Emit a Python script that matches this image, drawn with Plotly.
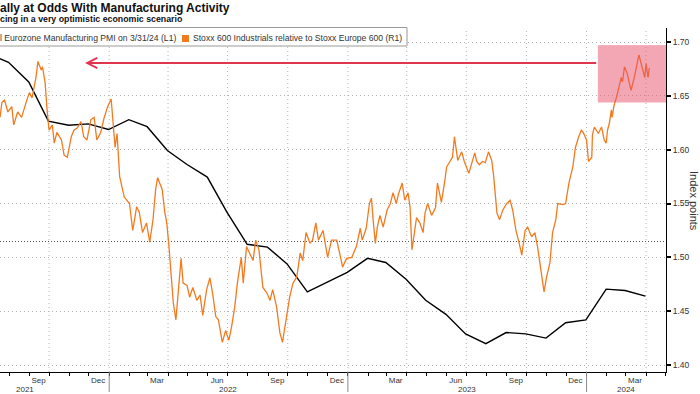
import plotly.graph_objects as go

# ---------------- data ----------------
pmi_dates = ["2021-06-30", "2021-07-31", "2021-08-31", "2021-09-30", "2021-10-31", "2021-11-30",
             "2021-12-31", "2022-01-31", "2022-02-28", "2022-03-31", "2022-04-30", "2022-05-31",
             "2022-06-30", "2022-07-31", "2022-08-31", "2022-09-30", "2022-10-31", "2022-11-30",
             "2022-12-31", "2023-01-31", "2023-02-28", "2023-03-31", "2023-04-30", "2023-05-31",
             "2023-06-30", "2023-07-31", "2023-08-31", "2023-09-30", "2023-10-31", "2023-11-30",
             "2023-12-31", "2024-01-31", "2024-02-29", "2024-03-31"]
pmi_values = [63.4, 62.8, 61.4, 58.6, 58.3, 58.4, 58.0, 58.7, 58.2, 56.5, 55.5, 54.6,
              52.1, 49.8, 49.6, 48.4, 46.4, 47.1, 47.8, 48.8, 48.5, 47.3, 45.8, 44.8,
              43.4, 42.7, 43.5, 43.4, 43.1, 44.2, 44.4, 46.6, 46.5, 46.1]

rel_dates = [
    "2021-07-18", "2021-07-21", "2021-07-25", "2021-07-30", "2021-08-05", "2021-08-08", "2021-08-14",
    "2021-08-20", "2021-08-28", "2021-09-01", "2021-09-05", "2021-09-11", "2021-09-14", "2021-09-19",
    "2021-09-21", "2021-09-25", "2021-09-28", "2021-10-01", "2021-10-06", "2021-10-09", "2021-10-13",
    "2021-10-20", "2021-10-24", "2021-10-29", "2021-11-04", "2021-11-08", "2021-11-13", "2021-11-19",
    "2021-11-23", "2021-11-28", "2021-12-04", "2021-12-09", "2021-12-13", "2021-12-19", "2021-12-24",
    "2021-12-29", "2022-01-04", "2022-01-07", "2022-01-10", "2022-01-13", "2022-01-17", "2022-01-24",
    "2022-02-01", "2022-02-06", "2022-02-12", "2022-02-16", "2022-02-21", "2022-02-27", "2022-03-04",
    "2022-03-09", "2022-03-13", "2022-03-16", "2022-03-23", "2022-03-27", "2022-03-30", "2022-04-02",
    "2022-04-07", "2022-04-09", "2022-04-13", "2022-04-16", "2022-04-21", "2022-04-24", "2022-04-30",
    "2022-05-04", "2022-05-09", "2022-05-15", "2022-05-20", "2022-05-24", "2022-05-30", "2022-06-04",
    "2022-06-08", "2022-06-13", "2022-06-17", "2022-06-23", "2022-06-28", "2022-07-03", "2022-07-07",
    "2022-07-12", "2022-07-16", "2022-07-22", "2022-07-25", "2022-07-30", "2022-08-04", "2022-08-09",
    "2022-08-13", "2022-08-18", "2022-08-24", "2022-08-30", "2022-09-04", "2022-09-08", "2022-09-14",
    "2022-09-19", "2022-09-23", "2022-09-28", "2022-10-04", "2022-10-09", "2022-10-15", "2022-10-20",
    "2022-10-24", "2022-10-29", "2022-11-04", "2022-11-08", "2022-11-13", "2022-11-17", "2022-11-24",
    "2022-12-01", "2022-12-07", "2022-12-15", "2022-12-19", "2022-12-24", "2022-12-30", "2023-01-07",
    "2023-01-14", "2023-01-20", "2023-01-23", "2023-01-29", "2023-02-03", "2023-02-06", "2023-02-09",
    "2023-02-12", "2023-02-15", "2023-02-19", "2023-02-24", "2023-03-02", "2023-03-07", "2023-03-11",
    "2023-03-16", "2023-03-19", "2023-03-25", "2023-03-29", "2023-04-03", "2023-04-06", "2023-04-09",
    "2023-04-13", "2023-04-16", "2023-04-21", "2023-04-26", "2023-04-29", "2023-05-03", "2023-05-09",
    "2023-05-15", "2023-05-18", "2023-05-24", "2023-05-29", "2023-06-01", "2023-06-06", "2023-06-10",
    "2023-06-13", "2023-06-18", "2023-06-24", "2023-06-28", "2023-07-05", "2023-07-11", "2023-07-14",
    "2023-07-17", "2023-07-21", "2023-07-26", "2023-07-30", "2023-08-04", "2023-08-09", "2023-08-12",
    "2023-08-17", "2023-08-21", "2023-08-26", "2023-09-01", "2023-09-06", "2023-09-10", "2023-09-15",
    "2023-09-20", "2023-09-24", "2023-09-29", "2023-10-03", "2023-10-09", "2023-10-14", "2023-10-18",
    "2023-10-24", "2023-10-28", "2023-11-01", "2023-11-06", "2023-11-10", "2023-11-15", "2023-11-18",
    "2023-11-26", "2023-11-30", "2023-12-05", "2023-12-11", "2023-12-15", "2023-12-20", "2023-12-24",
    "2023-12-27", "2024-01-01", "2024-01-04", "2024-01-09", "2024-01-10", "2024-01-13", "2024-01-16",
    "2024-01-19", "2024-01-24", "2024-01-28", "2024-01-31", "2024-02-02", "2024-02-05", "2024-02-08",
    "2024-02-09", "2024-02-12", "2024-02-16", "2024-02-20", "2024-02-23", "2024-02-25", "2024-02-28",
    "2024-03-03", "2024-03-09", "2024-03-14", "2024-03-17", "2024-03-21", "2024-03-24", "2024-03-26",
    "2024-03-30", "2024-04-01", "2024-04-04", "2024-04-06"]
rel_values = [
    1.630, 1.644, 1.646, 1.635, 1.640, 1.623, 1.635,
    1.630, 1.646, 1.653, 1.648, 1.667, 1.682, 1.674,
    1.677, 1.662, 1.637, 1.618, 1.623, 1.606, 1.616,
    1.609, 1.595, 1.593, 1.612, 1.618, 1.620, 1.626,
    1.612, 1.609, 1.628, 1.630, 1.609, 1.616, 1.629,
    1.639, 1.647, 1.628, 1.602, 1.615, 1.575, 1.556,
    1.550, 1.525, 1.547, 1.542, 1.523, 1.532, 1.514,
    1.535, 1.563, 1.574, 1.563, 1.542, 1.532, 1.513,
    1.479, 1.458, 1.442, 1.463, 1.499, 1.476, 1.474,
    1.463, 1.472, 1.460, 1.465, 1.446, 1.470, 1.481,
    1.467, 1.445, 1.442, 1.421, 1.432, 1.423, 1.435,
    1.454, 1.476, 1.500, 1.476, 1.510, 1.504, 1.497,
    1.516, 1.507, 1.472, 1.467, 1.460, 1.470, 1.454,
    1.430, 1.421, 1.442, 1.463, 1.476, 1.482, 1.504,
    1.497, 1.523, 1.513, 1.516, 1.532, 1.516, 1.525,
    1.500, 1.516, 1.516, 1.504, 1.491, 1.499, 1.500,
    1.510, 1.527, 1.516, 1.527, 1.550, 1.555, 1.532,
    1.513, 1.528, 1.539, 1.528, 1.544, 1.550, 1.560,
    1.550, 1.558, 1.569, 1.553, 1.560, 1.547, 1.507,
    1.523, 1.537, 1.532, 1.523, 1.541, 1.550, 1.539,
    1.546, 1.569, 1.551, 1.570, 1.584, 1.589, 1.593,
    1.612, 1.590, 1.598, 1.589, 1.578, 1.592, 1.597,
    1.589, 1.586, 1.589, 1.588, 1.598, 1.590, 1.575,
    1.541, 1.535, 1.544, 1.550, 1.553, 1.544, 1.525,
    1.513, 1.502, 1.525, 1.528, 1.519, 1.523, 1.510,
    1.486, 1.468, 1.482, 1.495, 1.523, 1.535, 1.550,
    1.549, 1.550, 1.569, 1.584, 1.602, 1.612, 1.618,
    1.616, 1.609, 1.589, 1.593, 1.614, 1.621, 1.618,
    1.615, 1.621, 1.609, 1.606, 1.618, 1.625, 1.637,
    1.630, 1.641, 1.649, 1.658, 1.667, 1.663, 1.677,
    1.671, 1.655, 1.667, 1.676, 1.688, 1.681, 1.676,
    1.667, 1.680, 1.667, 1.676]

month_tick_dates = ["2021-09-15", "2021-12-15", "2022-03-15", "2022-06-15", "2022-09-15",
                    "2022-12-15", "2023-03-15", "2023-06-15", "2023-09-15", "2023-12-15", "2024-03-15"]
month_tick_labels = ["Sep", "Dec", "Mar", "Jun", "Sep", "Dec", "Mar", "Jun", "Sep", "Dec", "Mar"]
year_label_dates = ["2021-08-25", "2022-07-02", "2023-07-02", "2024-03-01"]
year_labels = ["2021", "2022", "2023", "2024"]
year_starts = ["2022-01-01", "2023-01-01", "2024-01-01"]
quarter_starts = ["2021-10-01", "2022-01-01", "2022-04-01", "2022-07-01", "2022-10-01",
                  "2023-01-01", "2023-04-01", "2023-07-01", "2023-10-01", "2024-01-01", "2024-04-01"]
right_ticks = [1.40, 1.45, 1.50, 1.55, 1.60, 1.65, 1.70]

title_text = "ally at Odds With Manufacturing Activity"
subtitle_text = "cing in a very optimistic economic scenario"
legend_pmi = "l Eurozone Manufacturing PMI on 3/31/24 (L1)"
legend_rel = "Stoxx 600 Industrials relative to Stoxx Europe 600 (R1)"

# ---------------- figure ----------------
FONT = "Liberation Sans, Arial, sans-serif"
ORANGE = "#F47A1F"
PINK = "#E8506A"
GRID = "#b4b4b4"
DOTS = "1px,3px"

fig = go.Figure()
fig.add_trace(go.Scatter(x=pmi_dates, y=pmi_values, yaxis="y", mode="lines",
                         line=dict(color="black", width=1.4), showlegend=False,
                         hoverinfo="skip"))
fig.add_trace(go.Scatter(x=rel_dates, y=rel_values, yaxis="y2", mode="lines",
                         line=dict(color=ORANGE, width=1.3), showlegend=False,
                         hoverinfo="skip"))

PH = 344.0  # plot height in px
shapes = []
for q in quarter_starts:
    shapes.append(dict(type="line", xref="x", yref="paper", x0=q, x1=q, y0=0, y1=1,
                       line=dict(color=GRID, width=1, dash=DOTS), layer="below"))
for ys in year_starts:
    shapes.append(dict(type="line", xref="x", yref="paper", x0=ys, x1=ys, y0=0, y1=-20 / PH,
                       line=dict(color="#8a8a8a", width=1)))
# PMI 50 reference line
shapes.append(dict(type="line", xref="paper", yref="y", x0=0, x1=1, y0=50, y1=50,
                   line=dict(color="#555555", width=1, dash="1px,2px"), layer="below"))
# highlight box
shapes.append(dict(type="rect", xref="x", yref="y2", x0="2024-01-19", x1="2024-05-01 12:00",
                   y0=1.6443, y1=1.6966, fillcolor=PINK, opacity=0.5,
                   line=dict(color=PINK, width=1), layer="above"))
# legend box
shapes.append(dict(type="rect", xref="paper", yref="paper", x0=-0.01, x1=407 / 666,
                   y0=(372 - 46) / PH, y1=(372 - 27.5) / PH, fillcolor="white",
                   line=dict(color="#9a9a9a", width=1), layer="above"))
shapes.append(dict(type="rect", xref="paper", yref="paper", x0=182 / 666, x1=189 / 666,
                   y0=(372 - 42) / PH, y1=(372 - 35) / PH, fillcolor=ORANGE,
                   line=dict(width=0), layer="above"))

annotations = [
    dict(text="<b>" + title_text + "</b>", xref="paper", yref="paper", x=-0.003, y=(372 - 7.5) / PH,
         xanchor="left", yanchor="middle", showarrow=False,
         font=dict(family=FONT, size=12, color="#111111")),
    dict(text="<b>" + subtitle_text + "</b>", xref="paper", yref="paper", x=-0.003, y=(372 - 18.5) / PH,
         xanchor="left", yanchor="middle", showarrow=False,
         font=dict(family=FONT, size=8.8, color="#111111")),
    dict(text=legend_pmi, xref="paper", yref="paper", x=-0.003, y=(372 - 38) / PH,
         xanchor="left", yanchor="middle", showarrow=False,
         font=dict(family=FONT, size=8.6, color="#333333")),
    dict(text=legend_rel, xref="paper", yref="paper", x=191 / 666, y=(372 - 38) / PH,
         xanchor="left", yanchor="middle", showarrow=False,
         font=dict(family=FONT, size=8.6, color="#333333")),
    dict(text="Index points", xref="paper", yref="paper", x=694 / 666, y=(372 - 201) / PH,
         xanchor="center", yanchor="middle", textangle=90, showarrow=False,
         font=dict(family=FONT, size=11, color="#333333")),
    dict(text="", x="2021-11-25", y=1.6805, xref="x", yref="y2",
         ax="2024-01-18", ay=1.6805, axref="x", ayref="y2", showarrow=True,
         arrowhead=5, arrowsize=1.1, arrowwidth=1.8, arrowcolor="#E0344F"),
]
for d, t in zip(year_label_dates, year_labels):
    annotations.append(dict(text=t, x=d, xref="x", yref="paper", y=-17.5 / PH, xanchor="center",
                            yanchor="middle", showarrow=False,
                            font=dict(family=FONT, size=8, color="#333333")))

fig.update_layout(
    width=700, height=394,
    margin=dict(l=0, r=34, t=28, b=22, pad=0),
    paper_bgcolor="white", plot_bgcolor="white",
    showlegend=False,
    shapes=shapes, annotations=annotations,
    xaxis=dict(type="date", range=["2021-07-18", "2024-05-01 12:00"],
               showgrid=False, zeroline=False,
               tickmode="array", tickvals=month_tick_dates, ticktext=month_tick_labels,
               ticks="", tickfont=dict(family=FONT, size=8, color="#333333"),
               showline=True, linecolor="black", linewidth=1,
               minor=dict(ticks="outside", ticklen=3, tickcolor="black", tickwidth=1,
                          dtick="M1", tick0="2021-08-01", showgrid=False)),
    yaxis=dict(range=[40.68, 65.25], visible=False, showgrid=False, zeroline=False),
    yaxis2=dict(overlaying="y", side="right", range=[1.3935, 1.713],
                tickmode="array", tickvals=right_ticks, tickformat=".2f",
                showgrid=True, gridcolor=GRID, griddash=DOTS, gridwidth=1,
                zeroline=False, showline=True, linecolor="black", linewidth=1,
                ticks="outside", ticklen=4, tickwidth=2, tickcolor="black",
                tickfont=dict(family=FONT, size=8.5, color="#333333")),
)

fig.write_html("out.html", config={"displayModeBar": False},
               post_script="document.body.style.margin='0';document.body.style.padding='0';")
